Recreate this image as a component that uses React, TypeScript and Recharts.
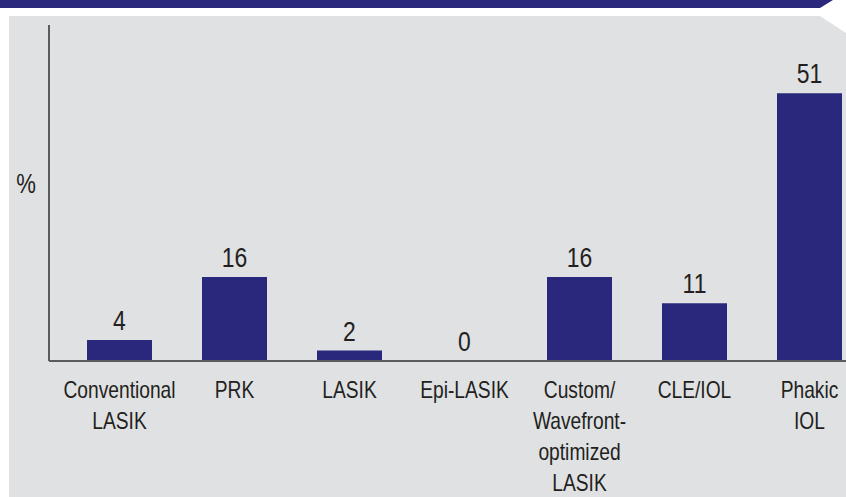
import React from 'react'
import { ComposedChart, Bar, Line, XAxis, YAxis, LabelList } from 'recharts'

const categories = [
  'Conventional\nLASIK',
  'PRK',
  'LASIK',
  'Epi-LASIK',
  'Custom/\nWavefront-\noptimized\nLASIK',
  'CLE/IOL',
  'Phakic\nIOL',
]
const shares = [4, 16, 2, 0, 16, 11, 51]
const yDomain = [0, 64]

// no condensed face installed, so squeeze Liberation Sans horizontally
const FONT = "'Liberation Sans', Arial, sans-serif"
const NAVY = '#29287d'
const GREY = '#e0e1e3'
const INK = '#231f20'

const data = categories.map((name, i) => ({ name, value: shares[i] }))

const CategoryTick = (props: any) => {
  const { x, y, payload } = props
  const lines = String(payload.value).split('\n')
  return (
    <g transform={`translate(${x},${y}) scale(0.8,1)`}>
      <text x={0} y={0} textAnchor="middle" fill={INK} fontSize={24} fontFamily={FONT}>
        {lines.map((line, i) => (
          <tspan key={i} x={0} dy={i === 0 ? 37 : 31}>{line}</tspan>
        ))}
      </text>
    </g>
  )
}

const ValueLabel = (props: any) => {
  const { x, y, value } = props
  return (
    <g transform={`translate(${x},${y - 10}) scale(0.85,1)`}>
      <text x={0} y={0} textAnchor="middle" fill={INK} fontSize={27} fontFamily={FONT}>{value}</text>
    </g>
  )
}

export default function App() {
  return (
    <div style={{ position: 'absolute', left: 0, top: 0, width: 846, height: 497, overflow: 'hidden', background: '#fff' }}>
      <svg width={846} height={497} style={{ position: 'absolute', left: 0, top: 0 }}>
        <polygon points="0,0 833,0 820,8 0,8" fill={NAVY} />
        <polygon points="9,16 820,16 846,33 846,497 9,497" fill={GREY} />
        <g transform="translate(26,193) scale(0.82,1)">
          <text x={0} y={0} textAnchor="middle" fontSize={27} fill={INK} fontFamily={FONT}>%</text>
        </g>
      </svg>
      <div style={{ position: 'absolute', left: 0, top: 0 }}>
        <ComposedChart width={867} height={497} data={data} margin={{ top: 25, right: 0, bottom: 0, left: 48 }}>
          <XAxis
            dataKey="name"
            height={136}
            padding={{ left: 13, right: 0 }}
            tickLine={false}
            tickSize={0}
            tickMargin={0}
            interval={0}
            axisLine={{ stroke: '#5b5b5d', strokeWidth: 2 }}
            tick={<CategoryTick />}
          />
          <YAxis
            width={1}
            domain={yDomain}
            tick={false}
            tickLine={false}
            axisLine={{ stroke: '#5b5b5d', strokeWidth: 2 }}
          />
          <Bar dataKey="value" fill={NAVY} barSize={65} isAnimationActive={false} />
          <Line dataKey="value" stroke="none" dot={false} activeDot={false} isAnimationActive={false}>
            <LabelList dataKey="value" content={<ValueLabel />} />
          </Line>
        </ComposedChart>
      </div>
    </div>
  )
}
